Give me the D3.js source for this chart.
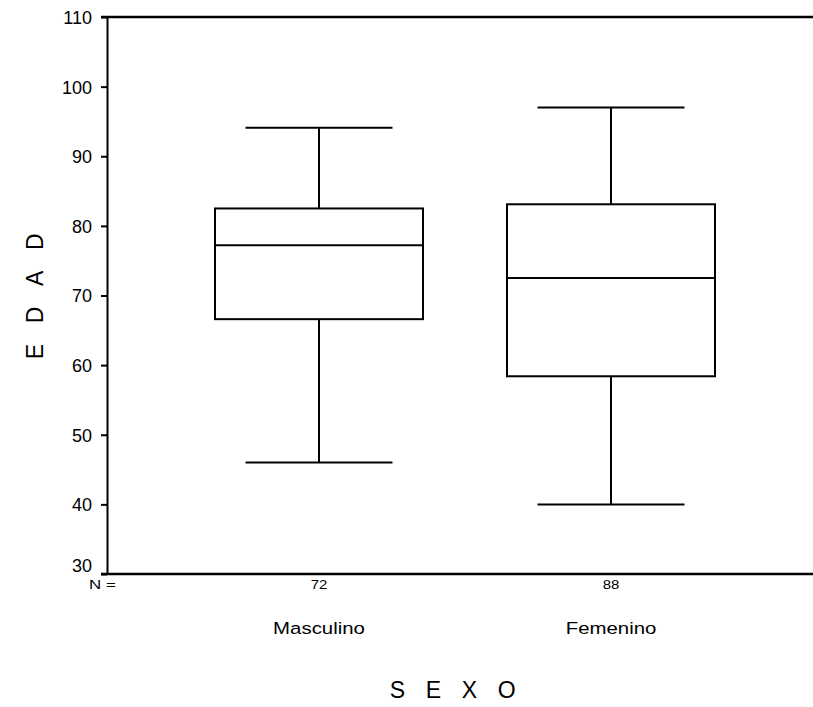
<!DOCTYPE html>
<head>
  <meta charset="utf-8">
  <title>EDAD por SEXO</title>
  <script src="https://cdn.jsdelivr.net/npm/d3@7"></script>
</head>

<style>
  body {
    margin: 0;
    background: #fff;
    font-family: "Liberation Sans", Arial, sans-serif;
  }
  .axis path, .axis line { stroke: #000; stroke-width: 2; }
  .box { fill: none; stroke: #000; stroke-width: 2; }
</style>

<body>
  <svg id='svg-chart'></svg>
</body>

<script>

var width = 813,
    height = 707,
    margin = {top: 17, right: 0, bottom: 133, left: 107};

// data
var sexo = ['Masculino', 'Femenino'];
var counts = [72, 88];
var mins = [46, 40];
var q1s = [66.6, 58.4];
var medians = [77.2, 72.5];
var q3s = [82.5, 83.1];
var maxs = [94.1, 97];
var y_ticks = [30, 40, 50, 60, 70, 80, 90, 100, 110];

var svg = d3.select('#svg-chart')
  .attr('width', width)
  .attr('height', height);

var x = d3.scalePoint()
  .domain(sexo)
  .range([margin.left, 823])
  .padding(0.726);

var y = d3.scaleLinear()
  .domain([30, 110])
  .range([height - margin.bottom, margin.top]);

var box_w = 208,
    cap_w = 147;

// left axis
svg.append('g')
  .attr('class', 'axis')
  .attr('transform', 'translate(' + margin.left + ',0)')
  .call(d3.axisLeft(y).tickValues(y_ticks).tickSize(6).tickSizeOuter(0).tickPadding(9))
  .call(function(g) {
    g.selectAll('text')
      .attr('font-size', 18)
      .attr('font-family', '"Liberation Sans", Arial, sans-serif')
      .attr('fill', '#000')
      .attr('dy', function(d) { return d == 30 ? '-0.12em' : '0.36em'; });
  });

// bottom and top frame lines
svg.append('line')
  .attr('x1', margin.left - 6).attr('x2', width)
  .attr('y1', y(30)).attr('y2', y(30))
  .attr('stroke', '#000').attr('stroke-width', 2.5);

svg.append('line')
  .attr('x1', margin.left - 6).attr('x2', width)
  .attr('y1', y(110)).attr('y2', y(110))
  .attr('stroke', '#000').attr('stroke-width', 2.5);

var g = svg.selectAll('g.cat')
  .data(sexo)
  .enter()
  .append('g')
  .attr('class', 'cat');

// whiskers
g.append('line')
  .attr('class', 'box')
  .attr('x1', function(d) { return x(d); })
  .attr('x2', function(d) { return x(d); })
  .attr('y1', function(d, i) { return y(maxs[i]); })
  .attr('y2', function(d, i) { return y(q3s[i]); });

g.append('line')
  .attr('class', 'box')
  .attr('x1', function(d) { return x(d); })
  .attr('x2', function(d) { return x(d); })
  .attr('y1', function(d, i) { return y(q1s[i]); })
  .attr('y2', function(d, i) { return y(mins[i]); });

// caps
g.append('line')
  .attr('class', 'box')
  .attr('x1', function(d) { return x(d) - cap_w / 2; })
  .attr('x2', function(d) { return x(d) + cap_w / 2; })
  .attr('y1', function(d, i) { return y(maxs[i]); })
  .attr('y2', function(d, i) { return y(maxs[i]); });

g.append('line')
  .attr('class', 'box')
  .attr('x1', function(d) { return x(d) - cap_w / 2; })
  .attr('x2', function(d) { return x(d) + cap_w / 2; })
  .attr('y1', function(d, i) { return y(mins[i]); })
  .attr('y2', function(d, i) { return y(mins[i]); });

// box
g.append('rect')
  .attr('class', 'box')
  .attr('x', function(d) { return x(d) - box_w / 2; })
  .attr('width', box_w)
  .attr('y', function(d, i) { return y(q3s[i]); })
  .attr('height', function(d, i) { return y(q1s[i]) - y(q3s[i]); });

// median
g.append('line')
  .attr('class', 'box')
  .attr('x1', function(d) { return x(d) - box_w / 2; })
  .attr('x2', function(d) { return x(d) + box_w / 2; })
  .attr('y1', function(d, i) { return y(medians[i]); })
  .attr('y2', function(d, i) { return y(medians[i]); });

// N row
svg.append('text')
  .attr('transform', 'translate(89,589) scale(1.3,1)')
  .attr('font-size', 13)
  .text('N =');

g.append('text')
  .attr('transform', function(d) { return 'translate(' + x(d) + ',589) scale(1.15,1)'; })
  .attr('text-anchor', 'middle')
  .attr('font-size', 13)
  .text(function(d, i) { return counts[i]; });

// category labels
g.append('text')
  .attr('transform', function(d) { return 'translate(' + x(d) + ',634) scale(1.2,1)'; })
  .attr('text-anchor', 'middle')
  .attr('font-size', 17)
  .text(function(d) { return d; });

// axis titles
svg.append('text')
  .attr('x', 463).attr('y', 698)
  .attr('text-anchor', 'middle')
  .attr('font-size', 23)
  .attr('letter-spacing', '0.9em')
  .text('SEXO');

svg.append('text')
  .attr('transform', 'translate(43,286) rotate(-90)')
  .attr('text-anchor', 'middle')
  .attr('font-size', 23)
  .attr('letter-spacing', '0.9em')
  .text('EDAD');

</script>
